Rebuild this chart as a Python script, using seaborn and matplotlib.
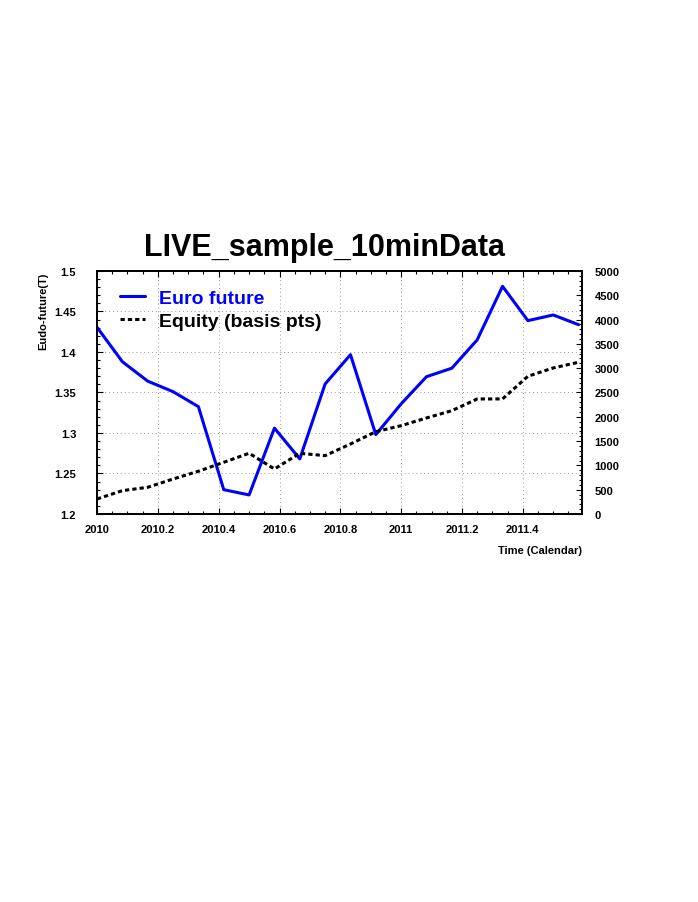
import numpy as np
import pandas as pd
import seaborn as sns
import matplotlib
matplotlib.use("Agg")
import matplotlib.pyplot as plt
from matplotlib.ticker import MultipleLocator, FuncFormatter

# monthly samples, 2010.0 onwards
months = list(range(20))
euro_future = [1.4305, 1.388, 1.364, 1.351, 1.3325, 1.230, 1.2235, 1.306, 1.268, 1.3605,
               1.3967, 1.298, 1.336, 1.3695, 1.380, 1.415, 1.4811, 1.4387, 1.4457, 1.4337]
equity_bp = [309, 480, 549, 720, 879, 1064, 1249, 926, 1249, 1200,
             1440, 1694, 1817, 1976, 2126, 2367, 2367, 2834, 3005, 3122]

df = pd.DataFrame({
    'time': [2010 + m / 12 for m in months],
    'euro': euro_future,
    'equity': equity_bp,
})

sns.set_style("white")
plt.rcParams['font.family'] = ['Liberation Sans', 'DejaVu Sans']
plt.rcParams['font.weight'] = 'bold'
for k in ('text.color', 'axes.labelcolor', 'xtick.color', 'ytick.color'):
    plt.rcParams[k] = 'black'

fig = plt.figure(figsize=(6.98, 9.03), dpi=100)
ax = fig.add_axes([0.139, 0.4297, 0.695, 0.2691])
ax2 = ax.twinx()

sns.lineplot(data=df, x='time', y='euro', ax=ax, color='#0000ff', linewidth=2.2,
             label='Euro future', legend=False)
sns.lineplot(data=df, x='time', y='equity', ax=ax2, color='black', linewidth=2.2,
             linestyle=(0, (1.4, 1.0)), label='Equity (basis pts)', legend=False)

ax.set_xlim(2010, 2011.595)
ax.set_ylim(1.2, 1.5)
ax2.set_ylim(0, 5000)

ax.xaxis.set_major_locator(MultipleLocator(0.2))
ax.xaxis.set_minor_locator(MultipleLocator(0.05))
ax.yaxis.set_major_locator(MultipleLocator(0.05))
ax.yaxis.set_minor_locator(MultipleLocator(0.01))
ax2.yaxis.set_major_locator(MultipleLocator(500))
ax2.yaxis.set_minor_locator(MultipleLocator(100))

ax.xaxis.set_major_formatter(FuncFormatter(lambda v, p: f'{v:g}'))
ax.yaxis.set_major_formatter(FuncFormatter(lambda v, p: f'{v:g}'))
ax2.yaxis.set_major_formatter(FuncFormatter(lambda v, p: f'{int(round(v))}'))

ax.grid(True, which='major', color='#999999', linestyle=(0, (1, 3)), linewidth=0.7)
ax.tick_params(axis='x', which='both', direction='in', top=True, bottom=True,
               labelsize=8, pad=7)
ax.tick_params(axis='y', which='both', direction='in', left=True, right=False,
               labelsize=8, pad=15)
ax2.tick_params(axis='y', which='both', direction='in', right=True, labelsize=8, pad=9)
for a in (ax, ax2):
    a.tick_params(which='major', length=4, width=0.8)
    a.tick_params(which='minor', length=2.5, width=0.8)
    for s in a.spines.values():
        s.set_linewidth(1.3)
        s.set_color('black')
for lbl in ax.get_xticklabels() + ax.get_yticklabels() + ax2.get_yticklabels():
    lbl.set_fontweight('bold')

ax.set_xlabel('')
ax.set_ylabel('')
ax2.set_ylabel('')
fig.text(43 / 698, 1 - 311 / 903, 'Eudo-future(T)', rotation=90, ha='center', va='center',
         fontsize=8, fontweight='bold')
fig.text(0.834, 1 - 551 / 903, 'Time (Calendar)', ha='right', va='center', fontsize=8,
         fontweight='bold')
fig.text(324 / 698, 1 - 256 / 903, 'LIVE_sample_10minData', ha='center', va='baseline',
         fontsize=22, fontweight='bold')

handles = ax.get_lines()[:1] + ax2.get_lines()[:1]
leg = ax.legend(handles, ['Euro future', 'Equity (basis pts)'], loc='upper left',
                bbox_to_anchor=(0.047, 0.925), frameon=False, borderpad=0,
                borderaxespad=0, handlelength=1.3, handletextpad=0.7, labelspacing=0.3,
                prop={'weight': 'bold', 'size': 14})
leg.get_texts()[0].set_color('#0000ff')

fig.savefig('out.png', dpi=100)
